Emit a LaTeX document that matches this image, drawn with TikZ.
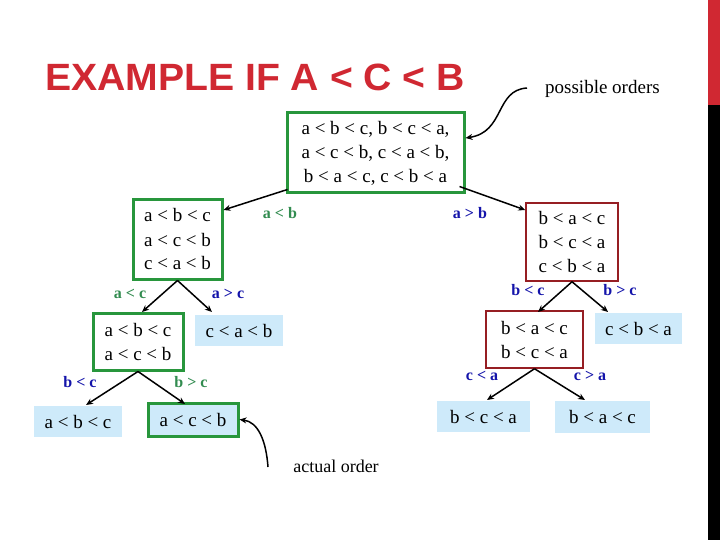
\documentclass[tikz,border=0pt]{standalone}
\usepackage{fontspec}
\setmainfont{Liberation Serif}
\newfontfamily\titlefont{Liberation Sans}
\usetikzlibrary{arrows.meta}
\definecolor{tred}{RGB}{208,40,50}
\definecolor{bgreen}{RGB}{40,150,60}
\definecolor{bred}{RGB}{150,30,35}
\definecolor{lblue}{RGB}{206,234,250}
\definecolor{lgreen}{RGB}{50,140,80}
\definecolor{lbl}{RGB}{20,20,170}
\tikzset{
  txt/.style={font=\fontsize{19}{24}\selectfont, align=center, inner sep=0pt},
  gbox/.style={txt, draw=bgreen, line width=3pt},
  rbox/.style={txt, draw=bred, line width=1.5pt},
  leaf/.style={txt, fill=lblue},
  gleaf/.style={txt, fill=lblue, draw=bgreen, line width=3pt},
  glab/.style={font=\bfseries\fontsize{16}{18}\selectfont, text=lgreen},
  blab/.style={font=\bfseries\fontsize{16}{18}\selectfont, text=lbl},
  arr/.style={-{Stealth[length=7pt,width=6pt]}, line width=1.5pt, black},
}
\begin{document}
\begin{tikzpicture}[x=1pt,y=-1pt]
\useasboundingbox (0,0) rectangle (720,540);
\fill[white] (0,0) rectangle (720,540);
\fill[tred] (708,0) rectangle (720,105);
\fill[black] (708,105) rectangle (720,540);
\node[anchor=west, text=tred, font=\titlefont\bfseries\fontsize{38}{40}\selectfont, xscale=1.03, inner sep=0pt] (title) at (45,77) {EXAMPLE IF A < C < B};
\node[anchor=west, font=\fontsize{19}{22}\selectfont, inner sep=0pt] (po) at (545,89) {possible orders};
\node[gbox, minimum width=177pt, minimum height=80pt] (root) at (375.5,153) {a < b < c, b < c < a,\\ a < c < b, c < a < b,\\ b < a < c, c < b < a};
\node[gbox, minimum width=89pt, minimum height=79pt] (A) at (177.5,239.5) {a < b < c\\ a < c < b\\ c < a < b};
\node[rbox, minimum width=92pt, minimum height=78pt] (B) at (572,242) {b < a < c\\ b < c < a\\ c < b < a};
\node[gbox, minimum width=90pt, minimum height=57pt] (C) at (138,341.5) {a < b < c\\ a < c < b};
\node[leaf, minimum width=88pt, minimum height=31pt] (cab) at (239,330.5) {c < a < b};
\node[leaf, minimum width=88pt, minimum height=31pt] (abc) at (78,421.5) {a < b < c};
\node[gleaf, minimum width=90pt, minimum height=33pt] (acb) at (193,419.5) {a < c < b};
\node[rbox, minimum width=97pt, minimum height=57pt] (D) at (534.5,339.5) {b < a < c\\ b < c < a};
\node[leaf, minimum width=87pt, minimum height=31pt] (cba) at (638.5,328.5) {c < b < a};
\node[leaf, minimum width=93pt, minimum height=31pt] (bca) at (483.5,416.5) {b < c < a};
\node[leaf, minimum width=95pt, minimum height=32pt] (bac) at (602.5,417) {b < a < c};
\node[font=\fontsize{18}{20}\selectfont, inner sep=1pt] (ao) at (336,466) {actual order};
\coordinate (poe) at (527,88);
\coordinate (aoe) at (268,467);
% connectors
\draw[arr] (root.south west) ++(2,-5) -- (A.north east |- 0,210);
\draw[arr] (root.south east) ++(-6,-8) -- (B.west |- 0,210);
\draw[arr] (A.south) -- (142,312);
\draw[arr] (A.south) -- (212,312);
\draw[arr] (C.south) -- (86,405);
\draw[arr] (C.south) -- (185,404);
\draw[arr] (D.south) -- (487,400);
\draw[arr] (D.south) -- (585,400);
\draw[arr] (B.south) -- (538,312);
\draw[arr] (B.south) -- (608,312);
\draw[arr] (poe) .. controls (495,90) and (505,132) .. (root.east |- 0,138);
\draw[arr] (aoe) .. controls (266,440) and (258,422) .. (acb.east);
% labels
\node[glab] at (280,213) {a < b};
\node[blab] at (470,213) {a > b};
\node[glab] at (130,294) {a < c};
\node[blab] at (228,294) {a > c};
\node[blab] at (80,382) {b < c};
\node[glab] at (191,382) {b > c};
\node[blab] at (528,290) {b < c};
\node[blab] at (620,290) {b > c};
\node[blab] at (482,376) {c < a};
\node[blab] at (590,376) {c > a};
\end{tikzpicture}
\end{document}
